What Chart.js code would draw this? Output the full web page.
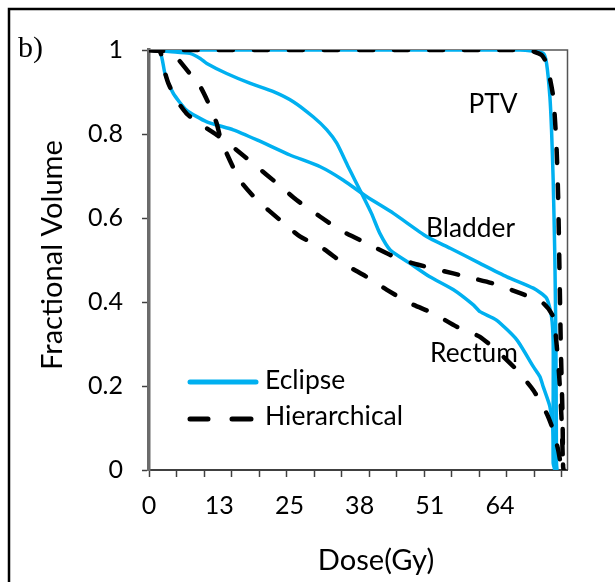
<!DOCTYPE html>
<html><head><meta charset="utf-8">
<script src="https://cdn.jsdelivr.net/npm/chart.js@4.4.1/dist/chart.umd.min.js"></script>
<style>html,body{margin:0;padding:0;background:#fff;}canvas{display:block;}</style>
</head><body>
<canvas id="c" width="615" height="582"></canvas>
<script>
// ---- data (dose in Gy, fractional volume) ----
const ptvEclipseDose = [0, 67.4, 71.6, 72.2, 72.8, 73.1, 73.4, 73.7, 73.9, 74.0, 74.1];
const ptvEclipseVol  = [1, 1, 0.992, 0.968, 0.889, 0.81, 0.69, 0.508, 0.286, 0.017, 0];

const ptvHierDose = [0, 67.4, 69.2, 71.3, 72.2, 73.4, 74.0, 74.3, 74.5, 74.8, 75.1, 75.2, 75.3];
const ptvHierVol  = [1, 1, 0.999, 0.988, 0.968, 0.889, 0.77, 0.651, 0.508, 0.286, 0.127, 0.008, 0];

const bladderEclipseDose = [0, 2.0, 2.9, 4.4, 6.8, 10.5, 15.3, 19.6, 25.6, 31.1, 35.3, 39.5, 44.4, 50.4, 54.7, 60.1, 65.0, 69.8, 72.2, 73.1, 73.4, 73.4, 73.4, 73.7];
const bladderEclipseVol  = [1, 0.996, 0.944, 0.897, 0.857, 0.829, 0.81, 0.786, 0.75, 0.722, 0.69, 0.651, 0.611, 0.556, 0.528, 0.492, 0.46, 0.433, 0.409, 0.365, 0.302, 0.167, 0.016, 0];

const rectumEclipseDose = [0, 4.1, 7.4, 9.3, 10.5, 14.1, 18.3, 22.6, 26.2, 29.8, 32.3, 34.1, 36.1, 37.4, 38.6, 40.4, 41.9, 43.8, 47.4, 51.0, 55.3, 58.9, 60.1, 63.1, 66.8, 69.8, 71.0, 71.6, 72.8, 73.4, 73.7, 73.8];
const rectumEclipseVol  = [1, 0.996, 0.992, 0.98, 0.968, 0.944, 0.921, 0.901, 0.877, 0.841, 0.81, 0.778, 0.724, 0.69, 0.659, 0.611, 0.564, 0.524, 0.492, 0.46, 0.429, 0.393, 0.377, 0.357, 0.31, 0.246, 0.222, 0.198, 0.151, 0.087, 0.008, 0];

const bladderHierDose = [0, 2.0, 2.6, 3.5, 5.0, 6.8, 8.7, 12.3, 15.9, 19.6, 23.2, 26.8, 31.1, 34.7, 39.5, 43.8, 48.0, 52.8, 57.7, 62.5, 67.4, 71.6, 73.4, 74.0, 74.5, 74.9, 75.2, 75.3];
const bladderHierVol  = [1, 0.996, 0.96, 0.921, 0.881, 0.849, 0.829, 0.798, 0.762, 0.722, 0.683, 0.643, 0.603, 0.571, 0.54, 0.512, 0.492, 0.476, 0.46, 0.444, 0.421, 0.397, 0.365, 0.302, 0.222, 0.127, 0.008, 0];

const rectumHierDose = [0, 3.8, 4.4, 7.4, 9.3, 11.1, 12.3, 12.9, 14.1, 16.5, 19.6, 23.8, 27.4, 31.1, 35.3, 39.5, 43.2, 47.4, 51.6, 55.9, 60.1, 63.7, 66.8, 69.8, 72.2, 73.4, 74.3, 74.9, 75.0];
const rectumHierVol  = [1, 0.996, 0.992, 0.944, 0.913, 0.865, 0.825, 0.794, 0.754, 0.69, 0.643, 0.595, 0.556, 0.532, 0.492, 0.46, 0.429, 0.397, 0.373, 0.341, 0.317, 0.278, 0.238, 0.19, 0.135, 0.095, 0.048, 0.004, 0];

// ---- axes ----
const xTickValues = [0, 12.75, 25.5, 38.25, 51, 63.75];
const xTickLabels = ['0', '13', '25', '38', '51', '64'];
const xMarkValues = [0, 5, 10, 15, 20, 25, 30, 35, 40, 45, 50, 55, 60, 65, 70, 75];
const yTickValues = [0, 0.2, 0.4, 0.6, 0.8, 1];
const yTickLabels = ['0', '0.2', '0.4', '0.6', '0.8', '1'];

const legendLabels = ['Eclipse', 'Hierarchical'];
const structureLabels = ['PTV', 'Bladder', 'Rectum'];

const BLUE = '#00b0f0';
const FAM = 'Lato, "Open Sans", sans-serif';

// font size fitting
const mctx = document.createElement('canvas').getContext('2d');
function fit(text, family, width) {
  mctx.font = '100px ' + family;
  return 100 * width / mctx.measureText(text).width;
}
const tickSize = fit('0.8', FAM, 35);
const titleSize = fit('Fractional Volume', FAM, 230);
const legendSize = fit('Hierarchical', FAM, 138);
const labelSize = fit('Bladder', FAM, 89);
const bSize = fit('b)', '"Liberation Serif", "Times New Roman", serif', 25);

function pts(xs, ys) { return xs.map((x, i) => ({ x: x, y: ys[i] })); }

const dashed = { borderColor: '#000', borderWidth: 4.5, borderDash: [14, 21], borderCapStyle: 'round', order: 0 };
const solid = { borderColor: BLUE, borderWidth: 3.5, order: 1 };

const decor = {
  id: 'decor',
  beforeDraw(chart) {
    const ctx = chart.ctx;
    ctx.save();
    ctx.fillStyle = '#fff';
    ctx.fillRect(0, 0, chart.width, chart.height);
    ctx.strokeStyle = '#000';
    ctx.lineWidth = 2.5;
    ctx.beginPath();
    ctx.moveTo(9, 582); ctx.lineTo(9, 9); ctx.lineTo(615, 9);
    ctx.stroke();
    const a = chart.chartArea;
    ctx.strokeStyle = '#555';
    ctx.lineWidth = 1.5;
    ctx.beginPath();
    ctx.moveTo(a.left, a.top); ctx.lineTo(a.right, a.top); ctx.lineTo(a.right, a.bottom);
    ctx.stroke();
    ctx.restore();
  },
  beforeDatasetsDraw(chart) {
    const ctx = chart.ctx;
    ctx.save();
    ctx.fillStyle = '#000';
    ctx.textBaseline = 'alphabetic';
    ctx.textAlign = 'center';
    ctx.font = labelSize + 'px ' + FAM;
    ctx.fillText(structureLabels[0], 493, 113);
    ctx.fillText(structureLabels[1], 470.5, 236.5);
    ctx.fillText(structureLabels[2], 474, 361.5);
    ctx.restore();
  },
  afterDraw(chart) {
    const ctx = chart.ctx;
    ctx.save();
    ctx.fillStyle = '#000';
    ctx.font = bSize + 'px "Liberation Serif", "Times New Roman", serif';
    ctx.textAlign = 'left';
    ctx.textBaseline = 'alphabetic';
    ctx.fillText('b)', 18, 57);
    ctx.font = titleSize + 'px ' + FAM;
    ctx.textAlign = 'center';
    ctx.fillText('Dose(Gy)', 376, 570);
    ctx.save();
    ctx.translate(62, 255);
    ctx.rotate(-Math.PI / 2);
    ctx.fillText('Fractional Volume', 0, 0);
    ctx.restore();
    ctx.lineCap = 'round';
    ctx.strokeStyle = BLUE;
    ctx.lineWidth = 5;
    ctx.beginPath(); ctx.moveTo(190, 382); ctx.lineTo(256, 382); ctx.stroke();
    ctx.strokeStyle = '#000';
    ctx.beginPath(); ctx.moveTo(190, 419); ctx.lineTo(208, 419); ctx.moveTo(232, 419); ctx.lineTo(251, 419); ctx.stroke();
    ctx.font = legendSize + 'px ' + FAM;
    ctx.textAlign = 'left';
    ctx.fillText(legendLabels[0], 265, 389);
    ctx.fillText(legendLabels[1], 265, 425);
    ctx.restore();
  }
};

new Chart(document.getElementById('c'), {
  type: 'line',
  data: {
    datasets: [
      Object.assign({ label: 'PTV Hierarchical', data: pts(ptvHierDose, ptvHierVol) }, dashed),
      Object.assign({ label: 'Bladder Hierarchical', data: pts(bladderHierDose, bladderHierVol) }, dashed),
      Object.assign({ label: 'Rectum Hierarchical', data: pts(rectumHierDose, rectumHierVol) }, dashed),
      Object.assign({ label: 'PTV Eclipse', data: pts(ptvEclipseDose, ptvEclipseVol) }, solid),
      Object.assign({ label: 'Bladder Eclipse', data: pts(bladderEclipseDose, bladderEclipseVol) }, solid),
      Object.assign({ label: 'Rectum Eclipse', data: pts(rectumEclipseDose, rectumEclipseVol) }, solid)
    ]
  },
  options: {
    responsive: false,
    animation: false,
    devicePixelRatio: 1,
    layout: { padding: { top: 50, right: 47.5, left: 0, bottom: 0 } },
    elements: { point: { radius: 0 }, line: { tension: 0.2, fill: false } },
    plugins: { legend: { display: false }, tooltip: { enabled: false } },
    scales: {
      x: {
        type: 'linear', min: 0, max: 76,
        afterBuildTicks: s => {
          const vals = Array.from(new Set(xMarkValues.concat(xTickValues))).sort((a, b) => a - b);
          s.ticks = vals.map(v => ({ value: v }));
        },
        afterFit: s => { s.height = 112; },
        ticks: {
          autoSkip: false, maxRotation: 0, minRotation: 0, padding: 14, color: '#000',
          font: { family: FAM, size: tickSize },
          callback: v => { const i = xTickValues.indexOf(v); return i >= 0 ? xTickLabels[i] : ''; }
        },
        grid: {
          drawOnChartArea: false, tickLength: 7, tickWidth: 1.5,
          tickColor: c => (c.tick && xMarkValues.indexOf(c.tick.value) >= 0) ? '#404040' : 'rgba(0,0,0,0)'
        },
        border: { color: '#404040', width: 2 }
      },
      y: {
        type: 'linear', min: 0, max: 1,
        afterBuildTicks: s => { s.ticks = yTickValues.map(v => ({ value: v })); },
        afterFit: s => { s.width = 149; },
        ticks: {
          padding: 19, color: '#000', font: { family: FAM, size: tickSize },
          callback: v => { const i = yTickValues.indexOf(v); return i >= 0 ? yTickLabels[i] : ''; }
        },
        grid: { drawOnChartArea: false, tickLength: 7, tickWidth: 1.5, tickColor: '#404040' },
        border: { color: '#6b6b6b', width: 3.5 }
      }
    }
  },
  plugins: [decor]
});
</script>
</body></html>
